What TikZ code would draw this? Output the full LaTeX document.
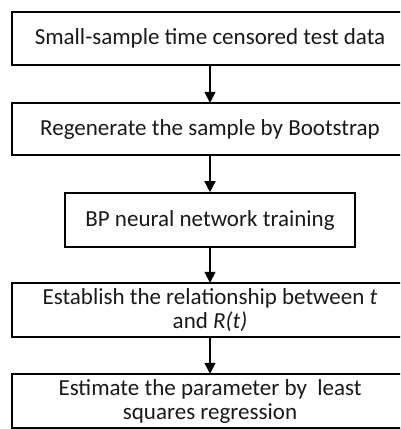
\documentclass[tikz,border=0pt]{standalone}
\usepackage{fontspec}
\setmainfont{Carlito}
\usetikzlibrary{arrows.meta,calc}

\begin{document}
\begin{tikzpicture}[x=1pt,y=-1pt,
  stepbox/.style={inner sep=0pt, align=center,
    font=\fontsize{23}{24}\selectfont, text=black!90},
  frame/.style={draw=black, line width=1.6pt},
  flow/.style={line width=1.6pt, -{Triangle[length=11pt,width=11pt]}}]
  \useasboundingbox (0,0) rectangle (400,429);
  \clip (0,0) rectangle (400,429);

  % wide steps run past the right edge of the page
  \node[stepbox, minimum width=396pt, minimum height=53pt] (s1) at (210,38.5)
    {Small-sample time censored test data};
  \node[stepbox, minimum width=396pt, minimum height=52pt] (s2) at (210,129)
    {Regenerate the sample by Bootstrap};
  \node[stepbox, frame, minimum width=290pt, minimum height=54pt] (s3) at (210,220)
    {BP neural network training};
  \node[stepbox, minimum width=396pt, minimum height=54pt] (s4) at (210,310)
    {Establish the relationship between \textit{t}\\ and \textit{R(t)}};
  \node[stepbox, minimum width=396pt, minimum height=54pt] (s5) at (210,401)
    {Estimate the parameter by\ \ least\\ squares regression};

  \foreach \s in {s1,s2,s4,s5}
    \draw[frame] (\s.north west) rectangle ($(\s.south east)+(30,0)$);

  \draw[flow] (s1) -- (s2);
  \draw[flow] (s2) -- (s3);
  \draw[flow] (s3) -- (s4);
  \draw[flow] (s4) -- (s5);
\end{tikzpicture}
\end{document}
